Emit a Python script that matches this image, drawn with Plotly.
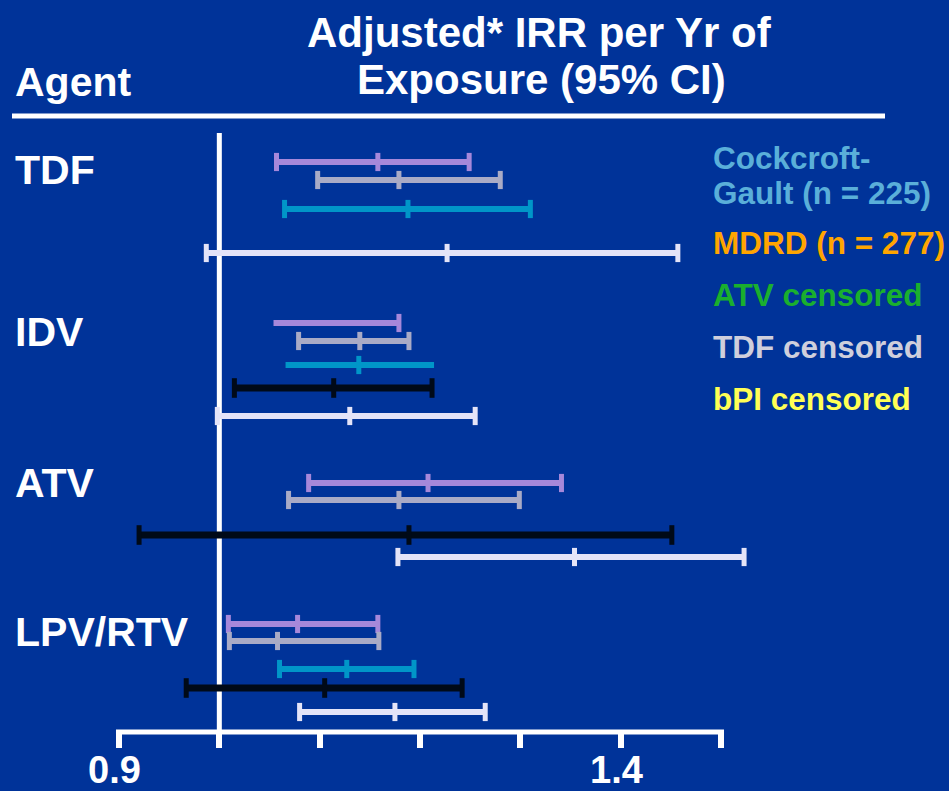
import plotly.graph_objects as go

# ---------------- data ----------------
AGENTS = ["TDF", "IDV", "ATV", "LPV/RTV"]
SERIES = ["Cockcroft-Gault (n = 225)", "MDRD (n = 277)", "ATV censored", "TDF censored", "bPI censored"]

CG_LO = [1.057, 1.054, 1.089, 1.009]
CG_EST = [1.158, None, 1.208, 1.078]
CG_HI = [1.249, 1.179, 1.341, 1.158]

MDRD_LO = [1.098, 1.079, 1.069, 1.010]
MDRD_EST = [1.179, 1.140, 1.179, 1.058]
MDRD_HI = [1.280, 1.189, 1.299, 1.159]

ATVC_LO = [1.065, 1.066, None, 1.060]
ATVC_EST = [1.188, 1.139, None, 1.127]
ATVC_HI = [1.310, 1.214, None, 1.194]

TDFC_LO = [None, 1.015, 0.920, 0.967]
TDFC_EST = [None, 1.114, 1.189, 1.105]
TDFC_HI = [None, 1.212, 1.451, 1.242]

BPI_LO = [0.987, 0.998, 1.178, 1.080]
BPI_EST = [1.227, 1.130, 1.354, 1.175]
BPI_HI = [1.457, 1.255, 1.523, 1.265]

TICK_VALS = [0.9, 1.0, 1.1, 1.2, 1.3, 1.4, 1.5]
TICK_TEXT = ["0.9", "", "", "", "", "1.4", ""]
REF_VALUE = 1.0

# ---------------- layout / style ----------------
W, H = 949, 791
AXIS_PX = 732            # vertical pixel of the x axis line
BG = "#003399"
FONT = "Liberation Sans, Arial, sans-serif"

# row vertical positions (pixels from top) per agent, per series
ROW_Y = [
    [162, 180, 209, None, 253],
    [323, 341, 365, 388, 416],
    [483, 500, None, 535, 557],
    [624, 641, 669, 688, 712],
]
COLORS = ["#A688DA", "#A9ABC6", "#0096C8", "#000A18", "#E4E4F8"]
LINE_W = [6, 6, 6, 7, 6]
CAP_SIZE = [13, 13, 13, 14, 13]
# caps omitted in the original drawing
NO_CAP = {(0, 1): {"lo"}, (2, 1): {"lo", "hi"}}

LO = [CG_LO, MDRD_LO, ATVC_LO, TDFC_LO, BPI_LO]
EST = [CG_EST, MDRD_EST, ATVC_EST, TDFC_EST, BPI_EST]
HI = [CG_HI, MDRD_HI, ATVC_HI, TDFC_HI, BPI_HI]

# x mapping: 0.9 -> px 119, 1.5 -> px 721
px_per_unit = (721 - 119) / 0.6
x_min = 0.9 - 119 / px_per_unit
x_max = 0.9 + (W - 119) / px_per_unit

fig = go.Figure()

for s, name in enumerate(SERIES):
    lx, ly, mx, my = [], [], [], []
    for a in range(len(AGENTS)):
        lo, est, hi, y = LO[s][a], EST[s][a], HI[s][a], ROW_Y[a][s]
        if lo is None or hi is None or y is None:
            continue
        lx += [lo, hi, None]
        ly += [y, y, None]
        off = NO_CAP.get((s, a), set())
        if "lo" not in off:
            mx.append(lo); my.append(y)
        if "hi" not in off:
            mx.append(hi); my.append(y)
        if est is not None:
            mx.append(est); my.append(y)
    fig.add_trace(go.Scatter(x=lx, y=ly, mode="lines", name=name,
                             line=dict(color=COLORS[s], width=LINE_W[s]),
                             showlegend=False, hoverinfo="skip"))
    fig.add_trace(go.Scatter(x=mx, y=my, mode="markers", name=name,
                             marker=dict(symbol="line-ns", size=CAP_SIZE[s],
                                         line=dict(color=COLORS[s], width=5)),
                             showlegend=False))

axis_pos = 1 - AXIS_PX / H

shapes = [
    # header rule
    dict(type="line", xref="paper", yref="paper", x0=12 / W, x1=885 / W,
         y0=1 - 116 / H, y1=1 - 116 / H, line=dict(color="white", width=5)),
    # reference line at 1.0
    dict(type="line", xref="x", yref="y", x0=REF_VALUE, x1=REF_VALUE,
         y0=133, y1=AXIS_PX, line=dict(color="white", width=5), layer="below"),
    # axis line
    dict(type="line", xref="x", yref="paper", x0=TICK_VALS[0] - 0.003, x1=TICK_VALS[-1] + 0.003,
         y0=axis_pos, y1=axis_pos, line=dict(color="white", width=5)),
]

def txt(text, x, y, size, color="white", xanchor="left"):
    return dict(text=f"<b>{text}</b>", x=x / W, y=1 - y / H, xref="paper", yref="paper",
                xanchor=xanchor, yanchor="middle", showarrow=False,
                font=dict(family=FONT, size=size, color=color))

annotations = [
    txt("Adjusted* IRR per Yr of", 539, 32, 42, xanchor="center"),
    txt("Exposure (95% CI)", 541, 79, 42, xanchor="center"),
    txt("Agent", 13, 82, 41),
]
for a, label in enumerate(AGENTS):
    annotations.append(txt(label, 13, [170, 332, 483, 632][a], 41))

LEGEND_TEXT = [("Cockcroft-", "#5AAFD9", 158), ("Gault (n = 225)", "#5AAFD9", 193),
               ("MDRD (n = 277)", "#FFA500", 243), ("ATV censored", "#1AAF2E", 295),
               ("TDF censored", "#CFCFDC", 347), ("bPI censored", "#FFFF55", 399)]
for t, c, y in LEGEND_TEXT:
    annotations.append(txt(t, 711, y, 31.5, color=c))

# tick labels (placed just under the tick marks, positioned by the x scale)
for v, t in zip(TICK_VALS, TICK_TEXT):
    if t:
        annotations.append(dict(text=f"<b>{t}</b>", x=v - 0.004, xref="x", y=1 - 770 / H,
                                yref="paper", xanchor="center", yanchor="middle",
                                showarrow=False,
                                font=dict(family=FONT, size=38, color="white")))

fig.update_layout(
    width=W, height=H, margin=dict(l=0, r=0, t=0, b=0, pad=0),
    paper_bgcolor=BG, plot_bgcolor=BG,
    xaxis=dict(range=[x_min, x_max], domain=[0, 1], showgrid=False, zeroline=False,
               showline=False, tickmode="array", tickvals=TICK_VALS,
               showticklabels=False,
               ticks="outside", ticklen=15, tickwidth=6, tickcolor="white",
               automargin=False),
    yaxis=dict(range=[AXIS_PX, 0], domain=[axis_pos, 1], visible=False, automargin=False),
    shapes=shapes, annotations=annotations,
)

fig.write_html("out.html")
